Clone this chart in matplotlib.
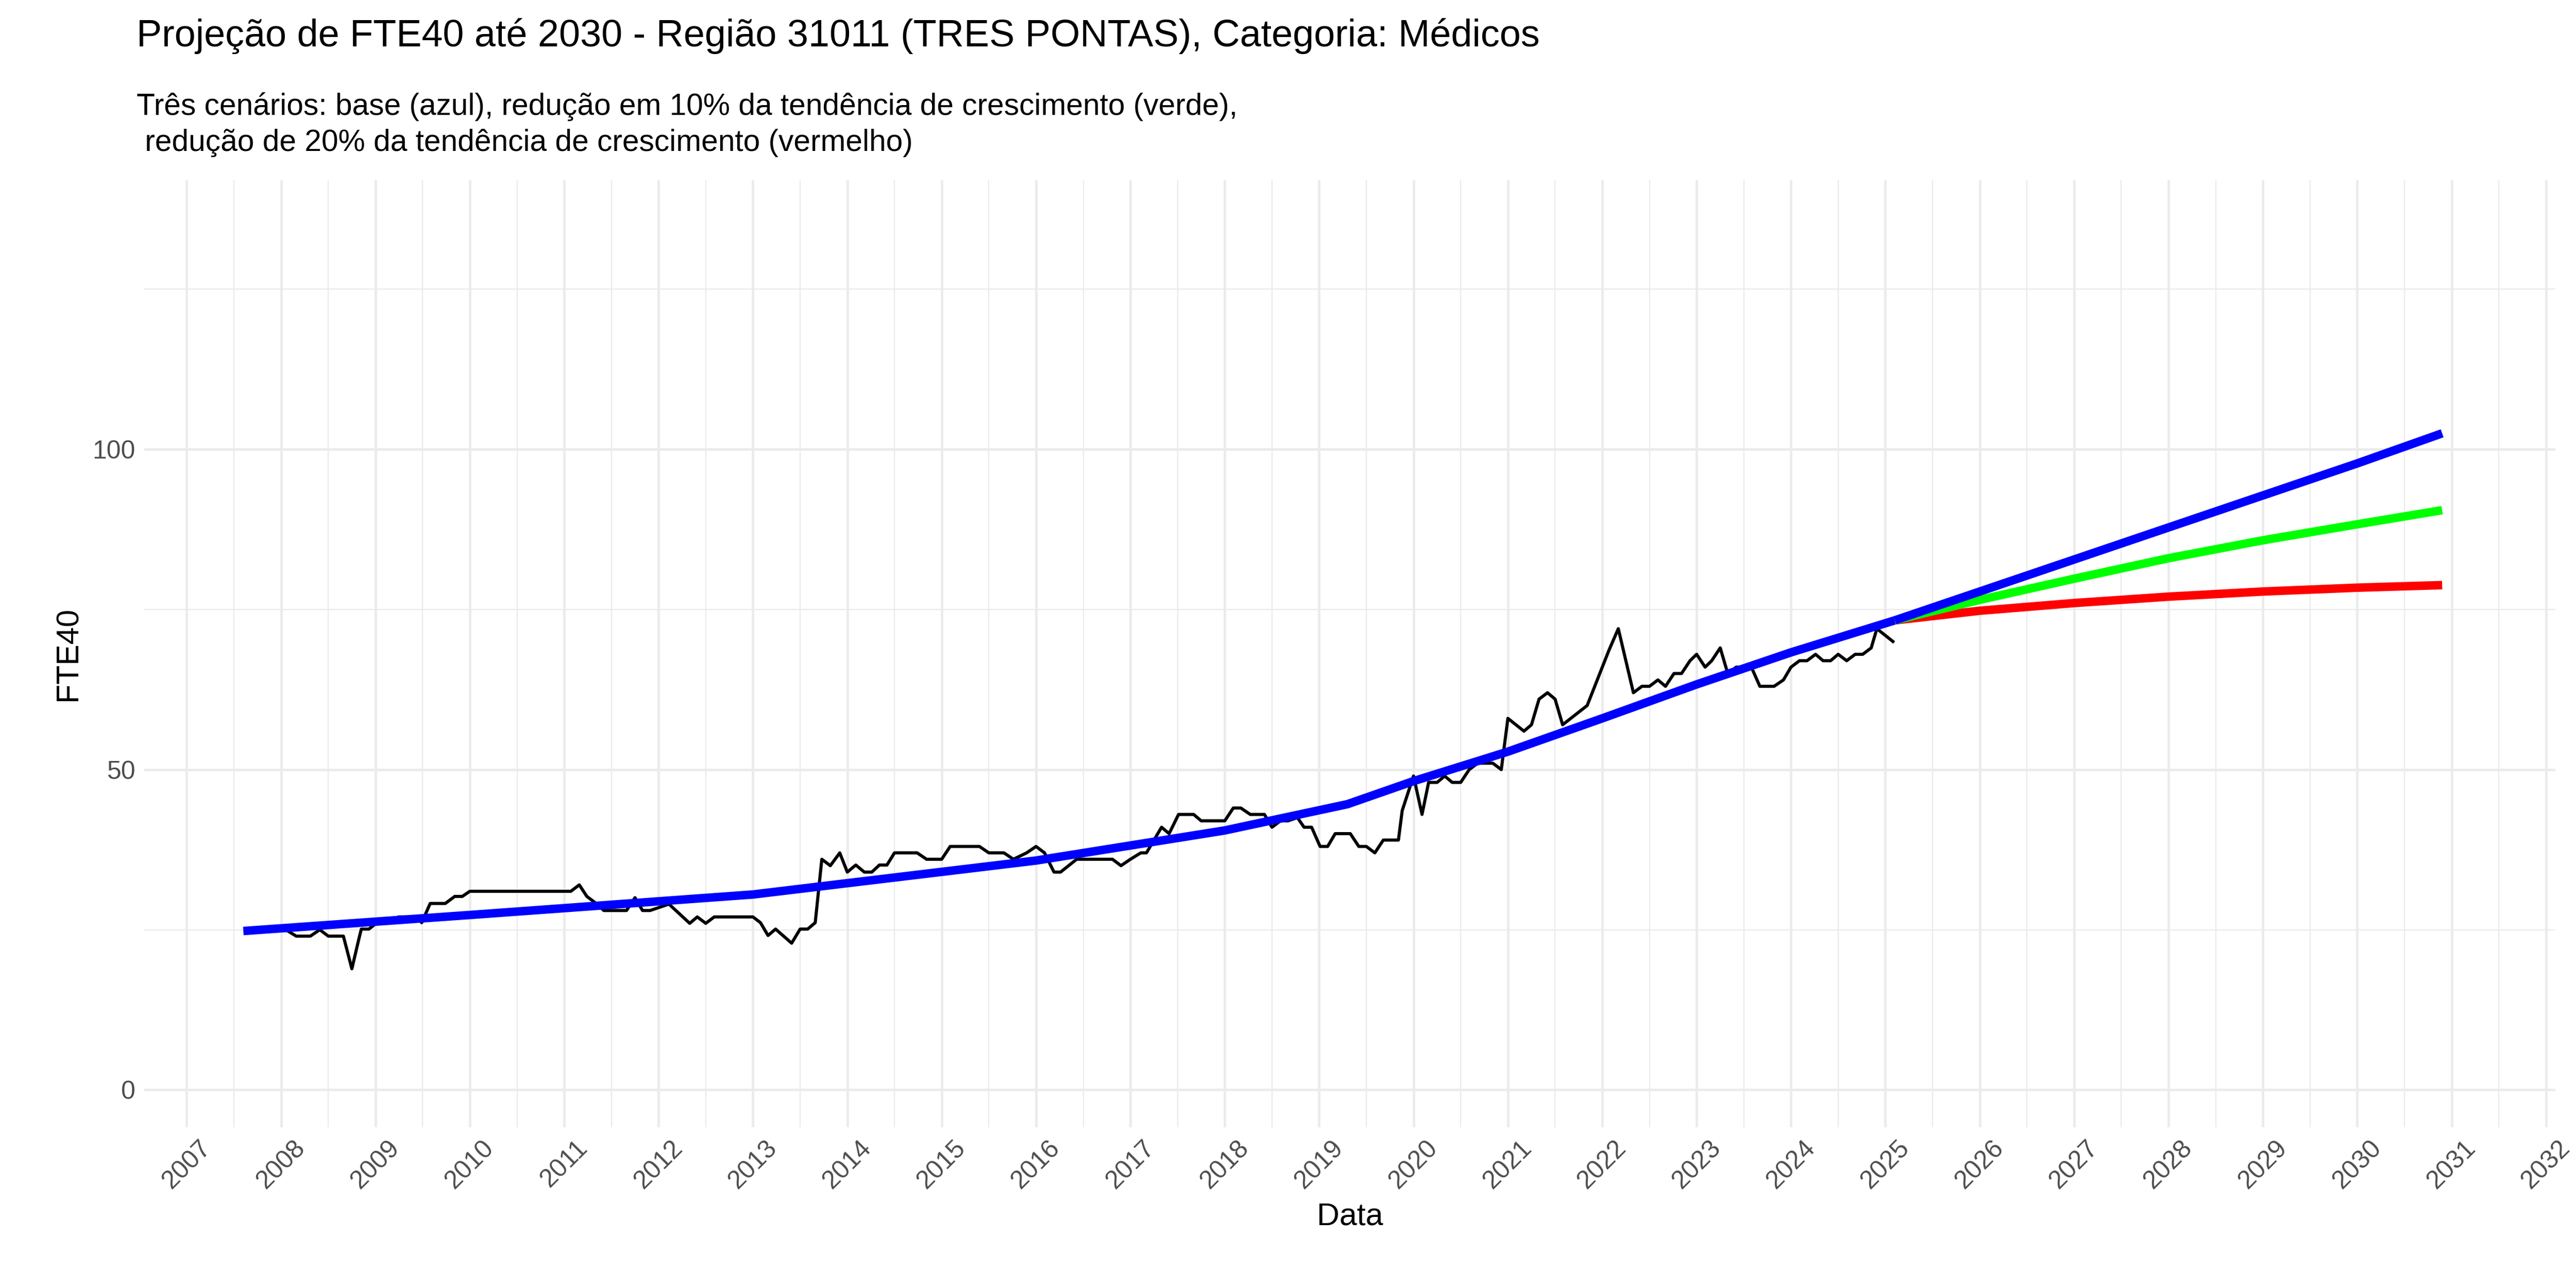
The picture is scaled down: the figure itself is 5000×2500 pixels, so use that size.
import numpy as np
import matplotlib
matplotlib.use('Agg')
import matplotlib.pyplot as plt
from matplotlib.ticker import MultipleLocator

plt.rcParams['font.family'] = ['Liberation Sans', 'DejaVu Sans']

# observed FTE40 (date as fractional year)
obs_t = [2008.05, 2008.16, 2008.31, 2008.41, 2008.5, 2008.66, 2008.75, 2008.82, 2008.85, 2008.93,
         2009.0, 2009.25, 2009.44, 2009.49, 2009.58, 2009.74, 2009.84, 2009.92, 2010.0, 2011.07,
         2011.16, 2011.24, 2011.33, 2011.42, 2011.66, 2011.75, 2011.83, 2011.91, 2012.11, 2012.33,
         2012.41, 2012.5, 2012.59, 2013.0, 2013.08, 2013.16, 2013.24, 2013.41, 2013.5, 2013.58,
         2013.66, 2013.73, 2013.82, 2013.92, 2014.0, 2014.09, 2014.18, 2014.26, 2014.34, 2014.42,
         2014.5, 2014.74, 2014.84, 2015.0, 2015.09, 2015.4, 2015.5, 2015.66, 2015.76, 2015.9,
         2016.0, 2016.09, 2016.19, 2016.26, 2016.43, 2016.81, 2016.9, 2017.0, 2017.11, 2017.17,
         2017.33, 2017.41, 2017.51, 2017.67, 2017.75, 2018.0, 2018.09, 2018.17, 2018.27, 2018.42,
         2018.5, 2018.59, 2018.67, 2018.77, 2018.84, 2018.92, 2019.01, 2019.09, 2019.17, 2019.33,
         2019.42, 2019.5, 2019.59, 2019.68, 2019.84, 2019.88, 2020.0, 2020.09, 2020.16, 2020.25,
         2020.33, 2020.41, 2020.5, 2020.59, 2020.68, 2020.84, 2020.93, 2021.0, 2021.17, 2021.25,
         2021.33, 2021.42, 2021.5, 2021.58, 2021.84, 2022.07, 2022.17, 2022.33, 2022.42, 2022.5,
         2022.59, 2022.67, 2022.76, 2022.84, 2022.93, 2023.0, 2023.09, 2023.16, 2023.25, 2023.33,
         2023.42, 2023.58, 2023.67, 2023.82, 2023.92, 2024.0, 2024.09, 2024.17, 2024.26, 2024.34,
         2024.42, 2024.5, 2024.59, 2024.68, 2024.76, 2024.85, 2024.91, 2025.08]
obs_v = [25.0, 24.0, 24.0, 25.0, 24.0, 24.0, 18.9, 23.3, 25.1, 25.1,
         25.9, 27.0, 27.0, 26.1, 29.1, 29.1, 30.2, 30.2, 31.0, 31.0,
         32.0, 30.2, 29.2, 28.0, 28.0, 30.0, 28.0, 28.0, 29.0, 26.0,
         27.0, 26.0, 27.0, 27.0, 26.1, 24.1, 25.1, 22.9, 25.1, 25.1,
         26.1, 36.0, 35.0, 37.0, 34.0, 35.1, 34.0, 34.0, 35.1, 35.1,
         37.0, 37.0, 36.0, 36.0, 38.0, 38.0, 37.0, 37.0, 36.0, 37.0,
         38.0, 37.0, 34.0, 34.0, 36.0, 36.0, 35.0, 36.0, 37.0, 37.0,
         41.0, 40.0, 43.0, 43.0, 42.0, 42.0, 44.0, 44.0, 43.0, 43.0,
         41.0, 42.0, 42.0, 42.5, 41.0, 41.0, 38.0, 38.0, 40.0, 40.0,
         38.0, 38.0, 37.0, 39.0, 39.0, 43.6, 49.0, 43.0, 48.0, 48.0,
         49.0, 48.0, 48.0, 50.0, 51.0, 51.0, 50.0, 58.0, 56.0, 57.0,
         61.0, 62.0, 61.0, 57.0, 60.0, 68.6, 72.0, 62.0, 63.0, 63.0,
         64.0, 63.0, 65.0, 65.0, 67.0, 68.0, 66.0, 67.0, 69.0, 65.0,
         66.0, 66.0, 63.0, 63.0, 64.0, 66.0, 67.0, 67.0, 68.0, 67.0,
         67.0, 68.0, 67.0, 68.0, 68.0, 69.0, 72.0, 70.0]

# fitted trend
fit_t = [2007.6, 2010.0, 2013.0, 2016.0, 2018.0, 2019.3, 2020.0, 2021.0, 2022.0, 2023.0, 2024.0, 2025.1]
fit_v = [24.8, 27.3, 30.5, 35.8, 40.5, 44.6, 48.2, 52.8, 58.0, 63.3, 68.3, 73.3]

# projections
proj_t = [2025.1, 2026.0, 2027.0, 2028.0, 2029.0, 2030.0, 2030.9]
base_v = [73.3, 77.8, 82.8, 87.8, 92.8, 97.8, 102.5]
red10_v = [73.3, 76.5, 79.8, 83.0, 85.8, 88.3, 90.5]
red20_v = [73.3, 74.8, 76.0, 77.0, 77.8, 78.4, 78.8]

years = list(range(2007, 2033))

fig = plt.figure(figsize=(16, 8), dpi=312.5)
ax = fig.add_axes([0.056, 0.125, 0.936, 0.735])

ax.plot(obs_t, obs_v, color='black', lw=1.4)
ax.plot(fit_t, fit_v, color='#0000FF', lw=3.8, solid_capstyle='butt')
ax.plot(proj_t, red20_v, color='#FF0000', lw=3.8, solid_capstyle='butt')
ax.plot(proj_t, red10_v, color='#00FF00', lw=3.8, solid_capstyle='butt')
ax.plot(proj_t, base_v, color='#0000FF', lw=3.8, solid_capstyle='butt')

ax.set_xlim(2006.55, 2032.1)
ax.set_ylim(-5.8, 142)
ax.set_xticks(years)
ax.set_xticklabels([str(y) for y in years], rotation=45, fontsize=11.5, color='#4D4D4D')
ax.xaxis.set_minor_locator(MultipleLocator(0.5))
ax.set_yticks([0, 50, 100])
ax.yaxis.set_minor_locator(MultipleLocator(25))
ax.tick_params(axis='y', labelsize=11.5, labelcolor='#4D4D4D')
ax.tick_params(which='both', length=0, pad=4)
ax.grid(which='major', color='#EBEBEB', lw=1.1)
ax.grid(which='minor', color='#EBEBEB', lw=0.55)
ax.set_axisbelow(True)
for s in ax.spines.values():
    s.set_visible(False)

ax.set_xlabel('Data', fontsize=14)
ax.set_ylabel('FTE40', fontsize=14)

fig.text(0.053, 0.958, 'Projeção de FTE40 até 2030 - Região 31011 (TRES PONTAS), Categoria: Médicos',
         fontsize=17, va='bottom')
fig.text(0.053, 0.878, 'Três cenários: base (azul), redução em 10% da tendência de crescimento (verde),\n'
         ' redução de 20% da tendência de crescimento (vermelho)', fontsize=13.5, va='bottom',
         linespacing=1.35)

fig.savefig('out.png', dpi=312.5)
